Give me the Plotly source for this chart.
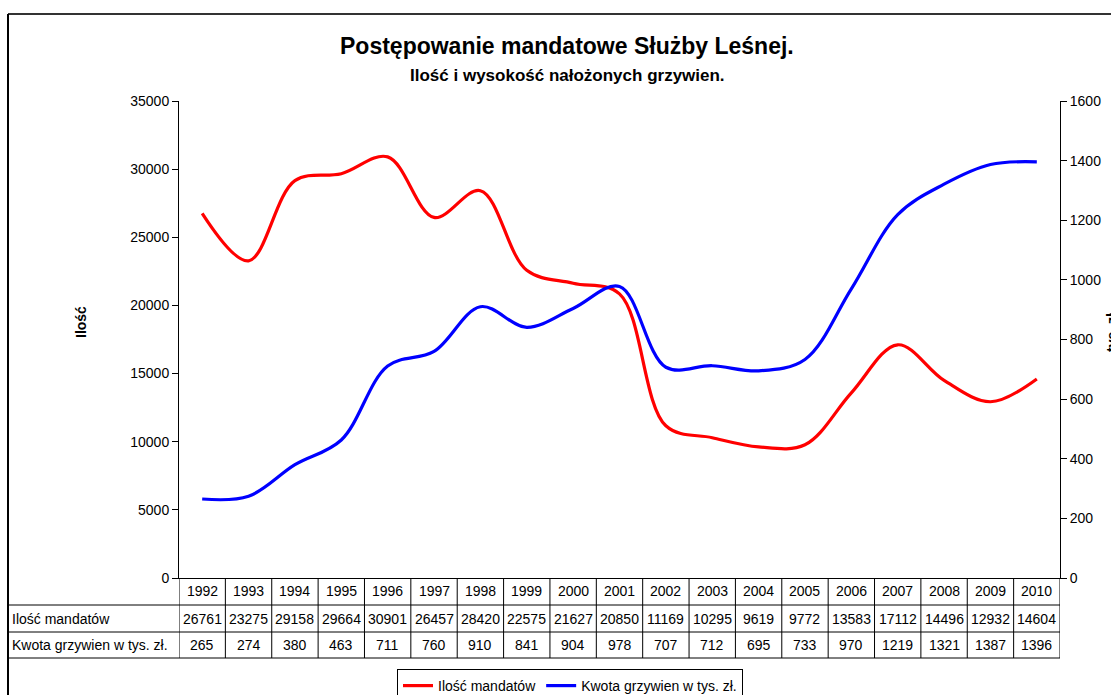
import plotly.graph_objects as go

years = [str(y) for y in range(1992, 2011)]
ilosc = [26761, 23275, 29158, 29664, 30901, 26457, 28420, 22575, 21627, 20850,
         11169, 10295, 9619, 9772, 13583, 17112, 14496, 12932, 14604]
kwota = [265, 274, 380, 463, 711, 760, 910, 841, 904, 978,
         707, 712, 695, 733, 970, 1219, 1321, 1387, 1396]
name_ilosc = "Ilość mandatów"
name_kwota = "Kwota grzywien w tys. zł."
title = "Postępowanie mandatowe Służby Leśnej."
subtitle = "Ilość i wysokość nałożonych grzywien."

W, H = 1111, 695
FONT = "Liberation Sans, Arial, sans-serif"


def px(x):
    return x / W


def py(y):
    return 1 - y / H


n = len(years)
idx = list(range(n))

fig = go.Figure()
fig.add_trace(go.Scatter(x=idx, y=ilosc, name=name_ilosc, mode="lines",
                         line=dict(color="#ff0000", width=3.2, shape="spline", smoothing=1.0),
                         yaxis="y"))
fig.add_trace(go.Scatter(x=idx, y=kwota, name=name_kwota, mode="lines",
                         line=dict(color="#0000ff", width=3.2, shape="spline", smoothing=1.0),
                         yaxis="y2"))

PL, PR, PT, PB = 179, 1060, 101, 578
tickfont = dict(family=FONT, size=14, color="black")

fig.update_layout(
    width=W, height=H,
    margin=dict(l=0, r=0, t=0, b=0, autoexpand=False),
    paper_bgcolor="white", plot_bgcolor="white",
    showlegend=True,
    xaxis=dict(domain=[px(PL), px(PR)], range=[-0.5, n - 0.5], showticklabels=False,
               showgrid=False, zeroline=False, showline=True, linecolor="black",
               linewidth=1, ticks=""),
    yaxis=dict(domain=[py(PB), py(PT)], range=[0, 35000], dtick=5000, tickformat="d",
               showgrid=False, zeroline=False, showline=True, linecolor="black", linewidth=1,
               ticks="outside", ticklen=6, tickcolor="black", tickfont=tickfont),
    yaxis2=dict(overlaying="y", side="right", range=[0, 1600], dtick=200, tickformat="d",
                showgrid=False, zeroline=False, showline=True, linecolor="black", linewidth=1,
                ticks="outside", ticklen=6, tickcolor="black", tickfont=tickfont),
    legend=dict(orientation="h", x=px(397), y=py(669), xanchor="left", yanchor="top",
                bordercolor="black", borderwidth=1, bgcolor="white",
                font=dict(family=FONT, size=14, color="black"),
                itemwidth=30, tracegroupgap=0),
)

shapes = []
# outer chart border
shapes.append(dict(type="line", xref="paper", yref="paper", x0=px(8), x1=px(1115),
                   y0=py(14), y1=py(14), line=dict(color="#333333", width=2)))
shapes.append(dict(type="line", xref="paper", yref="paper", x0=px(8), x1=px(8),
                   y0=py(14), y1=py(700), line=dict(color="black", width=2)))
# table horizontal lines
for yy in (605, 632, 658):
    shapes.append(dict(type="line", xref="paper", yref="paper", x0=px(8), x1=px(PR),
                       y0=py(yy), y1=py(yy), line=dict(color="black", width=1)))
# table left border
shapes.append(dict(type="line", xref="paper", yref="paper", x0=px(8), x1=px(8),
                   y0=py(605), y1=py(658), line=dict(color="black", width=1)))
# table vertical lines at category boundaries
for i in range(n + 1):
    shapes.append(dict(type="line", xref="x", yref="paper", x0=i - 0.5, x1=i - 0.5,
                       y0=py(PB), y1=py(658), line=dict(color="black", width=1)))
fig.update_layout(shapes=shapes)

ann = []
cellfont = dict(family=FONT, size=14, color="black")
for i in idx:
    ann.append(dict(x=i, y=py(591), xref="x", yref="paper", text=years[i],
                    showarrow=False, font=cellfont, xanchor="center", yanchor="middle"))
    ann.append(dict(x=i, y=py(619), xref="x", yref="paper", text=str(ilosc[i]),
                    showarrow=False, font=cellfont, xanchor="center", yanchor="middle"))
    ann.append(dict(x=i, y=py(645), xref="x", yref="paper", text=str(kwota[i]),
                    showarrow=False, font=cellfont, xanchor="center", yanchor="middle"))
ann.append(dict(x=px(10), y=py(619), xref="paper", yref="paper", text=name_ilosc,
                showarrow=False, font=cellfont, xanchor="left", yanchor="middle"))
ann.append(dict(x=px(10), y=py(645), xref="paper", yref="paper", text=name_kwota,
                showarrow=False, font=cellfont, xanchor="left", yanchor="middle"))
# titles
ann.append(dict(x=px(567), y=py(46), xref="paper", yref="paper", text="<b>" + title + "</b>",
                showarrow=False, font=dict(family=FONT, size=23, color="black"),
                xanchor="center", yanchor="middle"))
ann.append(dict(x=px(567), y=py(75), xref="paper", yref="paper", text="<b>" + subtitle + "</b>",
                showarrow=False, font=dict(family=FONT, size=17, color="black"),
                xanchor="center", yanchor="middle"))
# axis titles
ann.append(dict(x=px(81), y=py(322), xref="paper", yref="paper", text="<b>Ilość</b>",
                showarrow=False, textangle=-90, font=dict(family=FONT, size=14, color="black"),
                xanchor="center", yanchor="middle"))
ann.append(dict(x=px(1112), y=py(333), xref="paper", yref="paper", text="<b>tys. zł</b>",
                showarrow=False, textangle=-90, font=dict(family=FONT, size=14, color="black"),
                xanchor="center", yanchor="middle"))
fig.update_layout(annotations=ann)

fig.write_html("out.html", config={"displayModeBar": False},
               post_script="document.body.style.margin='0';document.body.style.overflow='hidden';")
